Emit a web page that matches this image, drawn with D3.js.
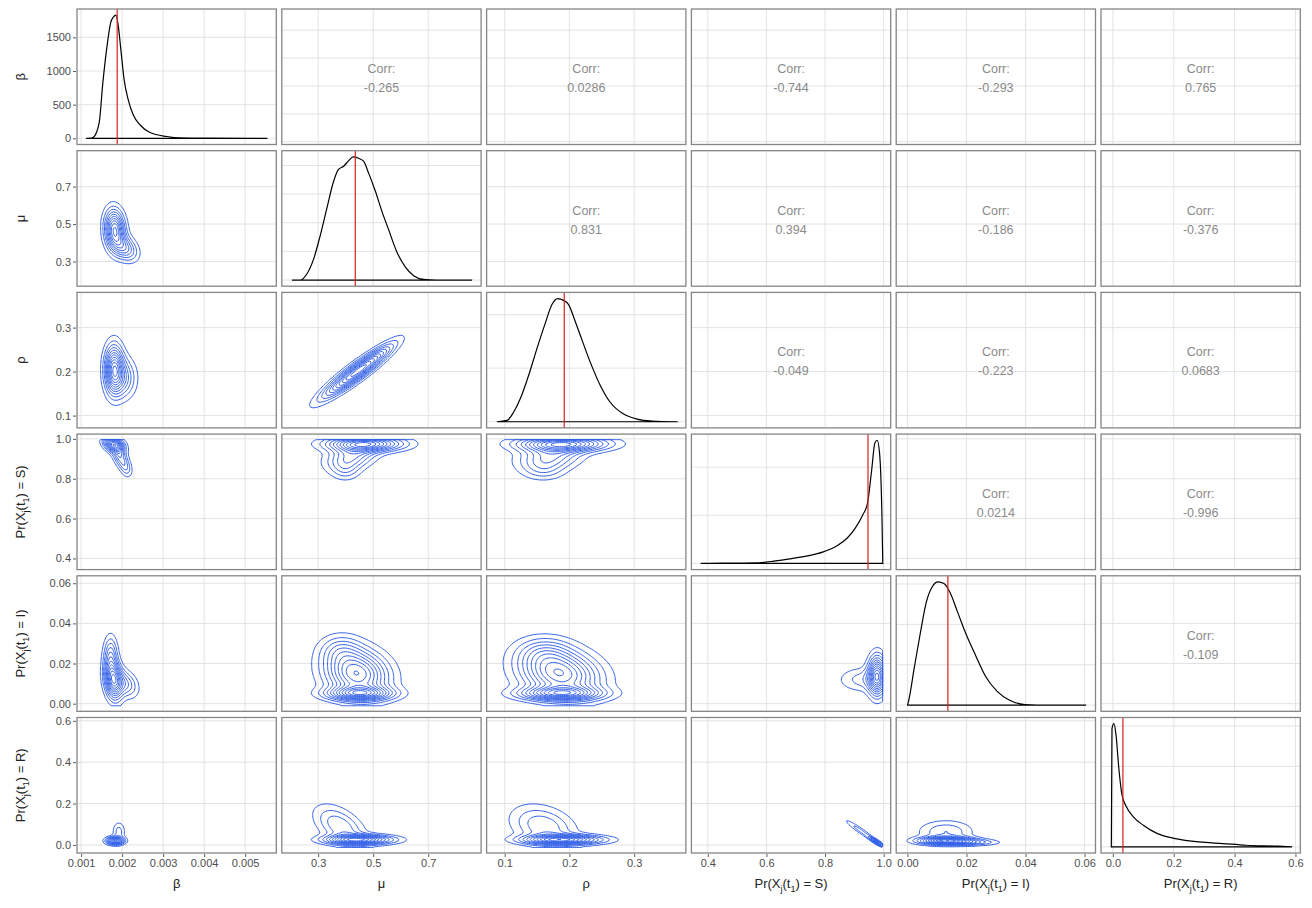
<!DOCTYPE html>
<html>
<head>
<meta charset="utf-8">
<script src="https://cdn.jsdelivr.net/npm/d3@7"></script>
<style>
  body { margin: 0; background: #fff; }
  text { font-family: "Liberation Sans", Arial, sans-serif; }
</style>
</head>
<body>
<svg id="chart" width="1312" height="908"></svg>
<script>
let svg = d3.select("#chart");

//! DATA
// row / column order of the pairs plot
let varNames = ["beta", "mu", "rho", "S", "I", "R"];

// axis limits of every variable
let varLimits = [
    [0.0009, 0.00576],
    [0.168, 0.892],
    [0.072, 0.380],
    [0.344, 1.024],
    [-0.0038, 0.0637],
    [-0.039, 0.616]
];
let varTicks = [
    [0.001, 0.002, 0.003, 0.004, 0.005],
    [0.3, 0.5, 0.7],
    [0.1, 0.2, 0.3],
    [0.4, 0.6, 0.8, 1.0],
    [0.00, 0.02, 0.04, 0.06],
    [0.0, 0.2, 0.4, 0.6]
];
let tickFormats = [".3f", ".1f", ".1f", ".1f", ".2f", ".1f"];

// ticks of the (hidden) density axis on the diagonal
let densTicks = [
    [0, 500, 1000, 1500],
    [0, 1, 2, 3, 4],
    [0, 5, 10],
    [0, 5, 10],
    [0, 20, 40, 60],
    [0, 5, 10, 15]
];

// red reference value of every variable
let redLine = [0.00188, 0.435, 0.192, 0.9465, 0.0137, 0.033];

// marginal densities [value, density]
let densBeta = [[0.00112, 0], [0.00125, 3], [0.0013, 15], [0.00144, 230], [0.00153, 824], [0.00163, 1359],
    [0.00172, 1716], [0.00179, 1804], [0.00185, 1830], [0.00191, 1656], [0.00197, 1314], [0.00205, 869],
    [0.00215, 572], [0.00227, 349], [0.00244, 198], [0.00268, 86], [0.00309, 27], [0.00341, 6],
    [0.0040, 2], [0.00554, 0]];
let densMu = [[0.205, 0], [0.235, 0], [0.2595, 0.22], [0.2835, 0.73], [0.308, 1.57], [0.332, 2.52],
    [0.356, 3.44], [0.374, 3.86], [0.3925, 3.97], [0.411, 4.17], [0.427, 4.3], [0.447, 4.25],
    [0.465, 4.15], [0.483, 3.74], [0.508, 3.10], [0.532, 2.39], [0.556, 1.76], [0.586, 0.98],
    [0.617, 0.45], [0.647, 0.15], [0.683, 0.02], [0.732, 0], [0.859, 0]];
let densRho = [[0.088, 0], [0.1035, 0.12], [0.1137, 0.89], [0.124, 2.14], [0.137, 4.34], [0.1499, 6.85],
    [0.1627, 9.21], [0.173, 10.94], [0.1817, 11.5], [0.191, 11.33], [0.1987, 10.94], [0.209, 9.36],
    [0.2194, 7.64], [0.232, 5.59], [0.2477, 3.39], [0.263, 1.82], [0.2837, 0.72], [0.3044, 0.25],
    [0.3276, 0.07], [0.366, 0]];
let densS = [[0.376, 0], [0.45, 0.03], [0.558, 0.05], [0.626, 0.24], [0.686, 0.5], [0.740, 0.78],
    [0.794, 1.2], [0.841, 1.84], [0.875, 2.62], [0.902, 3.62], [0.929, 5.06], [0.945, 6.27],
    [0.959, 9.68], [0.970, 12.52], [0.978, 12.8], [0.986, 11.46], [0.994, 5.06], [0.997, 0]];
let densI = [[0, 0], [0.00033, 1.65], [0.00233, 18.6], [0.00436, 35.6], [0.00636, 50.8], [0.00836, 58.5],
    [0.01039, 61], [0.01239, 60.2], [0.01439, 55.9], [0.01706, 45.8], [0.01974, 35.6], [0.02309, 24.6],
    [0.02644, 14.3], [0.03048, 6.7], [0.03447, 2.5], [0.03982, 0.3], [0.04788, 0], [0.0605, 0]];
let densR = [[-0.005, 0], [-0.0029, 14.7], [0.0037, 15.3], [0.0103, 13.9], [0.0195, 9.8], [0.0297, 6.5],
    [0.0428, 5.1], [0.0688, 3.67], [0.1013, 2.65], [0.1467, 1.64], [0.2052, 1.03], [0.283, 0.61],
    [0.361, 0.41], [0.439, 0.2], [0.543, 0.08], [0.589, 0]];
let densities = [densBeta, densMu, densRho, densS, densI, densR];

// correlations of the upper triangle: [row, col, value]
let corrValues = [
    [0, 1, -0.265], [0, 2, 0.0286], [0, 3, -0.744], [0, 4, -0.293], [0, 5, 0.765],
    [1, 2, 0.831], [1, 3, 0.394], [1, 4, -0.186], [1, 5, -0.376],
    [2, 3, -0.049], [2, 4, -0.223], [2, 5, 0.0683],
    [3, 4, 0.0214], [3, 5, -0.996],
    [4, 5, -0.109]
];

// contour blobs of the lower triangle:
// [centre x, centre y, spread x, spread y, tilt, height]
let muBeta = [[0.00182, 0.47, 0.00016, 0.07, -0.1, 1], [0.00208, 0.37, 0.0002, 0.045, -0.3, 0.5]];
let rhoBeta = [[0.0018, 0.205, 0.00015, 0.036, 0, 1], [0.00205, 0.185, 0.0002, 0.03, 0, 0.4]];
let sBeta = [[0.0018, 0.972, 0.00016, 0.025, -0.3, 1], [0.00195, 0.91, 0.00013, 0.04, -0.5, 0.45],
    [0.0021, 0.85, 0.0001, 0.03, -0.3, 0.2]];
let iBeta = [[0.00178, 0.012, 0.00014, 0.0065, -0.2, 1], [0.00172, 0.025, 0.00011, 0.006, 0, 0.4],
    [0.00208, 0.010, 0.0002, 0.0045, -0.3, 0.4]];
let rBeta = [[0.00183, 0.02, 0.00014, 0.012, 0, 1], [0.00192, 0.065, 0.0001, 0.03, 0, 0.25]];
let rhoMu = [[0.43, 0.195, 0.075, 0.036, 0.92, 1], [0.50, 0.225, 0.06, 0.03, 0.9, 0.3]];
let sMu = [[0.47, 0.975, 0.09, 0.025, 0, 1], [0.42, 0.91, 0.06, 0.045, 0.3, 0.5],
    [0.40, 0.84, 0.035, 0.035, 0, 0.2]];
let iMu = [[0.44, 0.015, 0.075, 0.008, -0.15, 1], [0.45, 0.005, 0.08, 0.0022, 0, 0.8],
    [0.38, 0.027, 0.05, 0.005, 0, 0.25]];
let rMu = [[0.45, 0.025, 0.08, 0.015, 0, 1], [0.38, 0.09, 0.06, 0.065, -0.5, 0.4]];
let sRho = [[0.19, 0.975, 0.045, 0.025, 0, 1], [0.17, 0.91, 0.032, 0.045, 0.2, 0.5],
    [0.16, 0.84, 0.022, 0.035, 0, 0.2]];
let iRho = [[0.185, 0.015, 0.04, 0.008, -0.2, 1], [0.185, 0.005, 0.042, 0.0022, 0, 0.8],
    [0.16, 0.026, 0.028, 0.005, 0, 0.25]];
let rRho = [[0.19, 0.025, 0.04, 0.015, 0, 1], [0.16, 0.09, 0.032, 0.065, -0.3, 0.4]];
let iS = [[0.978, 0.014, 0.02, 0.0065, 0, 1], [0.93, 0.012, 0.055, 0.004, 0, 0.25]];
let rS = [[0.975, 0.015, 0.015, 0.014, -0.9, 1], [0.92, 0.07, 0.035, 0.035, -0.95, 0.25]];
let rI = [[0.013, 0.02, 0.006, 0.012, 0, 1], [0.013, 0.065, 0.006, 0.035, 0, 0.3],
    [0.022, 0.012, 0.006, 0.01, 0, 0.3]];
let lowerPanels = [
    [1, 0, muBeta], [2, 0, rhoBeta], [3, 0, sBeta], [4, 0, iBeta], [5, 0, rBeta],
    [2, 1, rhoMu], [3, 1, sMu], [4, 1, iMu], [5, 1, rMu],
    [3, 2, sRho], [4, 2, iRho], [5, 2, rRho],
    [4, 3, iS], [5, 3, rS],
    [5, 4, rI]
];

// axis titles, pieces flagged 1 are subscripts
let varLabels = [
    [["β", 0]],
    [["μ", 0]],
    [["ρ", 0]],
    [["Pr(X", 0], ["j", 1], ["(t", 0], ["1", 1], [") = S)", 0]],
    [["Pr(X", 0], ["j", 1], ["(t", 0], ["1", 1], [") = I)", 0]],
    [["Pr(X", 0], ["j", 1], ["(t", 0], ["1", 1], [") = R)", 0]]
];

//? layout
let panelW = 199.3, panelH = 135.5;
let gapX = 5.5, gapY = 6.2;
let gridLeft = 77, gridTop = 9;
function colX(c) { return gridLeft + c * (panelW + gapX); }
function rowY(r) { return gridTop + r * (panelH + gapY); }

function xScaleFor(c) {
    return d3.scaleLinear().domain(varLimits[c]).range([colX(c), colX(c) + panelW]);
}
function yScaleFor(r) {
    return d3.scaleLinear().domain(varLimits[r]).range([rowY(r) + panelH, rowY(r)]);
}
function densScaleFor(r) {
    let peak = d3.max(densities[r], function (d) { return d[1]; });
    return d3.scaleLinear().domain([-0.05 * peak, 1.05 * peak]).range([rowY(r) + panelH, rowY(r)]);
}
// the data range sits inside the axis limits (5% padding each side)
function dataRange(v) {
    let lo = varLimits[v][0], hi = varLimits[v][1];
    let pad = (hi - lo) * 0.05 / 1.1;
    return [lo + pad, hi - pad];
}

let defs = svg.append("defs");
let gridColor = "#e0e0e0";

function drawDensity(g, r, x, y) {
    let pts = densities[r];
    let line = d3.line()
        .x(function (d) { return x(d[0]); })
        .y(function (d) { return y(d[1]); })
        .curve(d3.curveMonotoneX);
    let first = pts[0][0], last = pts[pts.length - 1][0];
    g.append("path")
        .attr("d", line(pts) + "L" + x(last) + "," + y(0) + "L" + x(first) + "," + y(0) + "Z")
        .attr("fill", "none")
        .attr("stroke", "#000")
        .attr("stroke-width", 1.2);
    g.append("line")
        .attr("x1", x(redLine[r])).attr("x2", x(redLine[r]))
        .attr("y1", rowY(r)).attr("y2", rowY(r) + panelH)
        .attr("stroke", "#d8201f")
        .attr("stroke-width", 1.2);
}

function drawCorr(g, r, c, value) {
    let cx = colX(c) + panelW / 2, cy = rowY(r) + panelH / 2;
    g.append("text")
        .attr("x", cx).attr("y", cy - 7)
        .attr("text-anchor", "middle")
        .attr("dominant-baseline", "middle")
        .attr("font-size", 12.5)
        .attr("fill", "#8a8a8a")
        .text("Corr:");
    g.append("text")
        .attr("x", cx).attr("y", cy + 12)
        .attr("text-anchor", "middle")
        .attr("dominant-baseline", "middle")
        .attr("font-size", 12.5)
        .attr("fill", "#8a8a8a")
        .text(String(value));
}

function drawContours(g, r, c, blobs, x, y) {
    let xr = dataRange(c), yr = dataRange(r);
    let n = 100, m = 100;
    let values = new Array(n * m);
    for (let j = 0; j < m; j++) {
        let yv = yr[1] - j / (m - 1) * (yr[1] - yr[0]);
        for (let i = 0; i < n; i++) {
            let xv = xr[0] + i / (n - 1) * (xr[1] - xr[0]);
            values[j * n + i] = d3.sum(blobs, function (b) {
                let dx = (xv - b[0]) / b[2], dy = (yv - b[1]) / b[3], k = b[4];
                return b[5] * Math.exp(-(dx * dx - 2 * k * dx * dy + dy * dy) / (2 * (1 - k * k)));
            });
        }
    }
    let levels = d3.ticks(0, d3.max(values), 10).filter(function (t) { return t > 0; });
    let contours = d3.contours().size([n, m]).thresholds(levels)(values);
    let proj = d3.geoTransform({
        point: function (gx, gy) {
            this.stream.point(
                x(xr[0] + (gx - 0.5) / (n - 1) * (xr[1] - xr[0])),
                y(yr[1] - (gy - 0.5) / (m - 1) * (yr[1] - yr[0]))
            );
        }
    });
    g.selectAll("path.contour")
        .data(contours)
        .enter()
        .append("path")
        .attr("class", "contour")
        .attr("d", d3.geoPath(proj))
        .attr("fill", "none")
        .attr("stroke", "#3361e8")
        .attr("stroke-width", 1.0);
}

function styleAxis(ax) {
    ax.select(".domain").remove();
    ax.selectAll(".tick line").attr("stroke", "#333").attr("stroke-width", 0.8);
    ax.selectAll(".tick text")
        .attr("fill", "#4d4d4d")
        .attr("font-size", 11)
        .attr("font-family", "\"Liberation Sans\", Arial, sans-serif");
}

function addLabel(t, pieces) {
    pieces.forEach(function (p, i) {
        let span = t.append("tspan").text(p[0]);
        if (p[1] === 1) {
            span.attr("font-size", 9).attr("dy", 3.5);
        } else if (i > 0 && pieces[i - 1][1] === 1) {
            span.attr("dy", -3.5);
        }
    });
}

//? Panels
for (let r = 0; r < 6; r++) {
    for (let c = 0; c < 6; c++) {
        let px = colX(c), py = rowY(r);
        let x = xScaleFor(c);
        let y = (r === c) ? densScaleFor(r) : yScaleFor(r);
        let yTicks = (r === c) ? densTicks[r] : varTicks[r];
        let g = svg.append("g").attr("class", "panel");

        g.append("rect")
            .attr("x", px).attr("y", py)
            .attr("width", panelW).attr("height", panelH)
            .attr("fill", "#fff");

        g.selectAll("line.gx")
            .data(varTicks[c])
            .enter()
            .append("line")
            .attr("class", "gx")
            .attr("x1", function (d) { return x(d); })
            .attr("x2", function (d) { return x(d); })
            .attr("y1", py).attr("y2", py + panelH)
            .attr("stroke", gridColor)
            .attr("stroke-width", 0.9);
        g.selectAll("line.gy")
            .data(yTicks)
            .enter()
            .append("line")
            .attr("class", "gy")
            .attr("x1", px).attr("x2", px + panelW)
            .attr("y1", function (d) { return y(d); })
            .attr("y2", function (d) { return y(d); })
            .attr("stroke", gridColor)
            .attr("stroke-width", 0.9);

        let clipId = "clip" + r + "_" + c;
        defs.append("clipPath").attr("id", clipId)
            .append("rect")
            .attr("x", px).attr("y", py)
            .attr("width", panelW).attr("height", panelH);
        let marks = g.append("g").attr("clip-path", "url(#" + clipId + ")");

        if (r === c) {
            drawDensity(marks, r, x, y);
        } else if (r < c) {
            let cv = corrValues.find(function (d) { return d[0] === r && d[1] === c; });
            drawCorr(marks, r, c, cv[2]);
        } else {
            let lp = lowerPanels.find(function (d) { return d[0] === r && d[1] === c; });
            drawContours(marks, r, c, lp[2], x, y);
        }

        g.append("rect")
            .attr("x", px).attr("y", py)
            .attr("width", panelW).attr("height", panelH)
            .attr("fill", "none")
            .attr("stroke", "#858585")
            .attr("stroke-width", 1.3);

        if (c === 0) {
            let fmt = (r === 0) ? d3.format("d") : d3.format(tickFormats[r]);
            let ax = svg.append("g")
                .attr("transform", "translate(" + (px - 1) + ",0)")
                .call(d3.axisLeft(y).tickValues(yTicks).tickFormat(fmt).tickSize(3).tickPadding(2));
            styleAxis(ax);
        }
        if (r === 5) {
            let ax = svg.append("g")
                .attr("transform", "translate(0," + (py + panelH + 1) + ")")
                .call(d3.axisBottom(x).tickValues(varTicks[c]).tickFormat(d3.format(tickFormats[c])).tickSize(3).tickPadding(2));
            styleAxis(ax);
        }
    }
}

//? Axis titles
varLabels.forEach(function (pieces, i) {
    let bt = svg.append("text")
        .attr("x", colX(i) + panelW / 2)
        .attr("y", 888)
        .attr("text-anchor", "middle")
        .attr("font-size", 13)
        .attr("fill", "#222");
    addLabel(bt, pieces);

    let ly = rowY(i) + panelH / 2;
    let lt = svg.append("text")
        .attr("transform", "translate(25," + ly + ") rotate(-90)")
        .attr("text-anchor", "middle")
        .attr("font-size", 13)
        .attr("fill", "#222");
    addLabel(lt, pieces);
});
</script>
</body>
</html>
